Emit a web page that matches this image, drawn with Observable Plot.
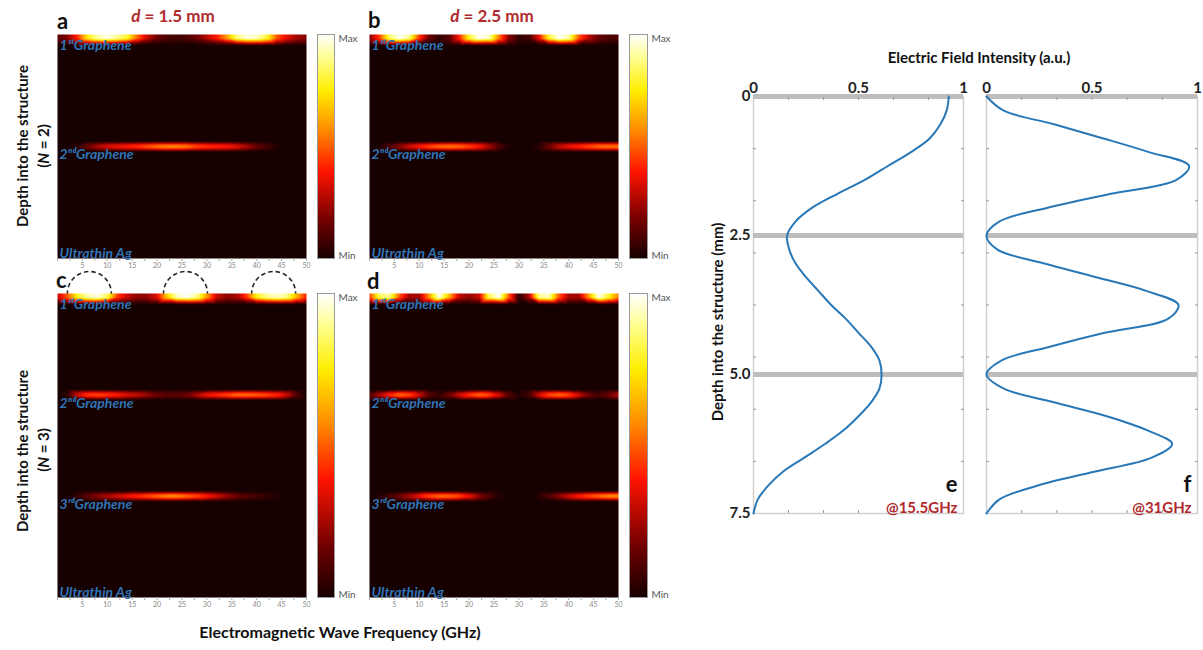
<!DOCTYPE html>
<html><head><meta charset="utf-8">
<script src="https://cdn.jsdelivr.net/npm/d3@7"></script>
<script src="https://cdn.jsdelivr.net/npm/@observablehq/plot@0.6"></script>
<style>
body{margin:0;background:#fff;}
#fig{position:relative;width:1203px;height:650px;overflow:hidden;background:#fff;}
#fig svg{overflow:visible;}
</style></head><body><div id="fig"></div>
<script>
// ---------- DATA ----------
const freqGHz = [0,2,4,6,8,10,12,14,16,18,20,22,24,26,28,30,32,34,36,38,40,42,44,46,48,50];
const freqTickMarks = [0,2.5,5,7.5,10,12.5,15,17.5,20,22.5,25,27.5,30,32.5,35,37.5,40,42.5,45,47.5,50];
const freqTickLabels = [5,10,15,20,25,30,35,40,45,50];

// normalised field intensity (Min = 0, Max = 1) along each layer, sampled at freqGHz
const panelA_layer1 = [0.12,0.2,0.42,0.75,0.92,0.98,0.9,0.8,0.52,0.3,0.16,0.1,0.08,0.1,0.16,0.28,0.4,0.6,0.88,0.97,0.95,0.82,0.5,0.35,0.25,0.2];
const panelA_layer2 = [0,0,0.05,0.15,0.25,0.32,0.35,0.38,0.42,0.47,0.52,0.55,0.55,0.52,0.45,0.42,0.4,0.38,0.33,0.25,0.15,0.08,0.03,0,0,0];
const panelB_layer1 = [0.2,0.45,0.85,1.0,0.9,0.45,0.15,0.05,0.12,0.4,0.8,1.0,0.95,0.55,0.2,0.05,0.08,0.35,0.8,1.0,0.92,0.5,0.28,0.15,0.1,0.1];
const panelB_layer2 = [0,0.02,0.1,0.2,0.3,0.38,0.45,0.5,0.52,0.5,0.45,0.38,0.25,0.1,0.02,0,0,0.03,0.15,0.28,0.35,0.4,0.45,0.5,0.52,0.52];
const panelC_layer1 = [0.3,0.5,0.78,0.92,0.98,0.85,0.45,0.3,0.22,0.22,0.35,0.7,0.95,1.0,0.9,0.6,0.3,0.22,0.25,0.45,0.78,0.9,0.95,0.9,0.65,0.4];
const panelC_layer2 = [0,0.05,0.3,0.42,0.45,0.42,0.38,0.32,0.28,0.22,0.15,0.12,0.12,0.15,0.25,0.35,0.4,0.45,0.5,0.5,0.48,0.45,0.4,0.3,0.1,0];
const panelC_layer3 = [0,0,0.05,0.12,0.2,0.25,0.3,0.35,0.4,0.45,0.5,0.55,0.55,0.5,0.45,0.38,0.3,0.22,0.15,0.1,0.08,0.05,0.02,0,0,0];
const panelD_layer1 = [0.45,0.85,0.9,0.5,0.25,0.25,0.6,1.0,0.65,0.3,0.22,0.3,0.85,1.0,0.5,0.05,0.25,0.9,0.95,0.5,0.25,0.25,0.6,1.0,0.8,0.55];
const panelD_layer2 = [0.1,0.25,0.4,0.5,0.45,0.3,0.12,0.05,0.15,0.3,0.42,0.5,0.45,0.3,0.12,0.02,0.08,0.3,0.45,0.5,0.45,0.3,0.15,0.08,0.15,0.25];
const panelD_layer3 = [0,0.02,0.08,0.15,0.25,0.35,0.45,0.5,0.5,0.45,0.35,0.2,0.1,0.03,0,0,0,0.03,0.1,0.2,0.3,0.38,0.45,0.5,0.55,0.55];

const layerNames = ["1ˢᵗGraphene","2ⁿᵈGraphene","3ʳᵈGraphene"];
const substrateName = "Ultrathin Ag";
const arcCentersGHz = [6.4, 25.7, 43.4];

// field intensity profiles (panels e, f)
const depthMM = [0,0.25,0.5,0.75,1,1.25,1.5,1.75,2,2.25,2.5,2.75,3,3.25,3.5,3.75,4,4.25,4.5,4.75,5,5.25,5.5,5.75,6,6.25,6.5,6.75,7,7.25,7.5];
const fieldE = [0.93,0.92,0.89,0.84,0.75,0.64,0.53,0.40,0.28,0.20,0.16,0.17,0.20,0.25,0.31,0.37,0.44,0.50,0.56,0.60,0.61,0.60,0.56,0.50,0.43,0.34,0.24,0.14,0.07,0.02,0.0];
const fieldF = [0.0,0.08,0.32,0.55,0.77,0.96,0.90,0.59,0.29,0.06,0.0,0.05,0.27,0.52,0.76,0.91,0.86,0.56,0.30,0.07,0.0,0.08,0.32,0.57,0.76,0.88,0.78,0.51,0.24,0.06,0.0];
const layerDepthsMM = [0, 2.5, 5.0];
const depthTickLabels = [0, 2.5, 5, 7.5];
const depthMinorTicks = [0.9375,1.875,2.8125,3.75,4.6875,5.625,6.5625];
const intensityTickLabels = [0, 0.5, 1];
const intensityMinorTicks = [1/6,2/6,3/6,4/6,5/6];

// ---------- STYLE ----------
const FONT = "Lato, 'Open Sans', 'DejaVu Sans', sans-serif";
const hotDomain = [0, 0.17, 0.39, 0.57, 0.75, 0.9, 1];
const hotRange = ["#160000", "#720000", "#ff1400", "#ff8a00", "#ffee00", "#ffff95", "#ffffff"];
const colorScale = {type: "linear", domain: hotDomain, range: hotRange, clamp: true};
const blue = "#2e74b5", darkRed = "#b02a2e";

const fig = document.getElementById("fig");
function place(node, left, top) {
  node.style.position = "absolute";
  node.style.left = left + "px";
  node.style.top = top + "px";
  fig.appendChild(node);
}

function heatmap(layers, spacing, frame, showArcs) {
  const N = layers.length, D = N * spacing;
  const mL = 4, mR = 6, mT = showArcs ? 28 : 4, mB = 18;
  const px = D / frame.h;               // mm per pixel (band thickness styling)
  const pts = [];
  layers.forEach((vals, k) => {
    const yc = k * spacing;
    freqGHz.forEach((f, i) => {
      if (k === 0) {
        pts.push({f, depth: 0, v: vals[i]});
        pts.push({f, depth: 4 * px, v: vals[i]});
        pts.push({f, depth: 11 * px, v: 0});
      } else {
        pts.push({f, depth: yc - 5.5 * px, v: 0});
        pts.push({f, depth: yc - 1.2 * px, v: vals[i]});
        pts.push({f, depth: yc + 1.2 * px, v: vals[i]});
        pts.push({f, depth: yc + 5.5 * px, v: 0});
      }
    });
  });
  freqGHz.forEach(f => pts.push({f, depth: D, v: 0}));
  const firstLabel = [{depth: 0, name: layerNames[0]}];
  const innerLabels = layers.slice(1).map((_, j) => ({depth: (j + 1) * spacing, name: layerNames[j + 1]}));
  const labelStyle = {x: () => 0, y: "depth", text: "name", dx: 2, textAnchor: "start", lineAnchor: "top",
    fill: blue, fontSize: 14, fontWeight: "bold", fontStyle: "italic"};
  const p = Plot.plot({
    width: frame.w + mL + mR, height: frame.h + mT + mB,
    marginLeft: mL, marginRight: mR, marginTop: mT, marginBottom: mB,
    style: {fontFamily: FONT, overflow: "visible", background: "transparent"},
    x: {domain: [0, 50]},
    y: {domain: [D, 0], axis: null},
    color: colorScale,
    marks: [
      showArcs ? Plot.dot(arcCentersGHz, {x: d => d, y: () => 0, r: 22, stroke: "#2a2a2a", strokeWidth: 1.6, strokeDasharray: "4.5,3", fill: "none"}) : null,
      Plot.raster(pts, {x: "f", y: "depth", fill: "v", interpolate: "barycentric", x1: 0, x2: 50, y1: 0, y2: D}),
      Plot.axisX(freqTickMarks, {tickSize: 3, tickPadding: 2, fontSize: 7, stroke: "#aaa", fill: "#888", label: null,
        tickFormat: d => freqTickLabels.includes(d) ? String(d) : ""}),
      Plot.text(firstLabel, {...labelStyle, dy: 6}),
      Plot.text(innerLabels, {...labelStyle, dy: 3}),
      Plot.text([substrateName], {...labelStyle, y: () => D, text: d => d, dy: -1, lineAnchor: "bottom"})
    ]
  });
  place(p, frame.x - mL, frame.y - mT);
}

function colorbar(frame) {
  const mR = 30;
  const p = Plot.plot({
    width: frame.w + 1 + mR, height: frame.h + 2,
    marginLeft: 1, marginRight: mR, marginTop: 1, marginBottom: 1,
    style: {fontFamily: FONT, overflow: "visible", background: "transparent"},
    x: {domain: [0, 1], axis: null}, y: {domain: [0, 1], axis: null},
    color: colorScale,
    marks: [
      Plot.raster({fill: (x, y) => y, x1: 0, x2: 1, y1: 0, y2: 1}),
      Plot.frame({stroke: "#999"}),
      Plot.text(["Max"], {x: () => 1, y: () => 1, text: d => d, dx: 4, textAnchor: "start", lineAnchor: "top", fontSize: 10, fill: "#555"}),
      Plot.text(["Min"], {x: () => 1, y: () => 0, text: d => d, dx: 4, textAnchor: "start", lineAnchor: "bottom", fontSize: 10, fill: "#555"})
    ]
  });
  place(p, frame.x - 1, frame.y - 1);
}

function profile(vals, frame, showDepth, letter, freqLabel) {
  const mL = 44, mR = 8, mT = 26, mB = 6;
  const data = depthMM.map((d, i) => ({depth: d, v: vals[i]}));
  const minor = {tickSize: -3, tickFormat: () => "", stroke: "#999", label: null};
  const p = Plot.plot({
    width: frame.w + mL + mR, height: frame.h + mT + mB,
    marginLeft: mL, marginRight: mR, marginTop: mT, marginBottom: mB,
    style: {fontFamily: FONT, fontWeight: "bold", fontSize: "15px", overflow: "visible", background: "transparent"},
    x: {domain: [0, 1]}, y: {domain: [7.5, 0]},
    marks: [
      Plot.frame({stroke: "#d0d0d0", strokeWidth: 1.5}),
      Plot.ruleY(layerDepthsMM, {stroke: "#bdbdbd", strokeWidth: 5}),
      Plot.axisX(intensityMinorTicks, {anchor: "top", ...minor}),
      Plot.axisX(intensityMinorTicks, {anchor: "bottom", ...minor}),
      Plot.axisY(depthMinorTicks, {anchor: "left", ...minor}),
      Plot.axisY(depthMinorTicks, {anchor: "right", ...minor}),
      Plot.axisX(intensityTickLabels, {anchor: "top", tickSize: 0, tickPadding: 4, fontSize: 15, fill: "#222", label: null, tickFormat: d => String(d)}),
      showDepth ? Plot.axisY(depthTickLabels, {anchor: "left", tickSize: 0, tickPadding: 3, fontSize: 15, fill: "#222", label: null,
        tickFormat: d => d === 0 ? "0" : d.toFixed(1)}) : null,
      Plot.line(data, {x: "v", y: "depth", stroke: "#2878b8", strokeWidth: 2, curve: "catmull-rom"}),
      Plot.text([letter], {frameAnchor: "bottom-right", text: d => d, dx: -6, dy: -22, textAnchor: "end", lineAnchor: "bottom", fontSize: 22, fill: "#111"}),
      Plot.text([freqLabel], {frameAnchor: "bottom-right", text: d => d, dx: -6, dy: -1, textAnchor: "end", lineAnchor: "bottom", fontSize: 15, fill: darkRed})
    ]
  });
  place(p, frame.x - mL, frame.y - mT);
}

// ---------- PANELS ----------
heatmap([panelA_layer1, panelA_layer2], 1.5, {x: 57, y: 34, w: 249, h: 224}, false);
heatmap([panelB_layer1, panelB_layer2], 2.5, {x: 369, y: 34, w: 249, h: 224}, false);
heatmap([panelC_layer1, panelC_layer2, panelC_layer3], 1.5, {x: 57, y: 293, w: 249, h: 304}, true);
heatmap([panelD_layer1, panelD_layer2, panelD_layer3], 2.5, {x: 369, y: 293, w: 249, h: 304}, false);
colorbar({x: 317, y: 34, w: 17, h: 224});
colorbar({x: 629, y: 34, w: 18, h: 224});
colorbar({x: 317, y: 293, w: 17, h: 304});
colorbar({x: 629, y: 293, w: 18, h: 304});
profile(fieldE, {x: 753, y: 96, w: 210, h: 417}, true, "e", "@15.5GHz");
profile(fieldF, {x: 986, y: 96, w: 211, h: 417}, false, "f", "@31GHz");

// ---------- TEXT OVERLAY ----------
const svg = d3.select(fig).append("svg")
  .attr("width", 1203).attr("height", 650)
  .style("position", "absolute").style("left", "0px").style("top", "0px")
  .style("pointer-events", "none")
  .attr("font-family", FONT).attr("font-weight", "bold");

function txt(x, y, parts, {size = 14, fill = "#111", anchor = "start", rotate = false} = {}) {
  const t = svg.append("text").attr("font-size", size).attr("fill", fill).attr("text-anchor", anchor);
  if (rotate) t.attr("transform", `translate(${x},${y}) rotate(-90)`);
  else t.attr("x", x).attr("y", y);
  parts.forEach(p => {
    const s = t.append("tspan").text(typeof p === "string" ? p : p.t);
    if (typeof p !== "string" && p.italic) s.attr("font-style", "italic");
  });
}
txt(57, 29, ["a"], {size: 22});
txt(368, 28, ["b"], {size: 22});
txt(56, 288, ["c"], {size: 22});
txt(367, 289, ["d"], {size: 22});
txt(173, 22, [{t: "d", italic: true}, " = 1.5 mm"], {size: 17, fill: darkRed, anchor: "middle"});
txt(492, 22, [{t: "d", italic: true}, " = 2.5 mm"], {size: 17, fill: darkRed, anchor: "middle"});
txt(28, 146, ["Depth into the structure"], {size: 15, anchor: "middle", rotate: true});
txt(49, 146, ["(", {t: "N", italic: true}, " = 2)"], {size: 15, anchor: "middle", rotate: true});
txt(28, 451, ["Depth into the structure"], {size: 15, anchor: "middle", rotate: true});
txt(49, 450, ["(", {t: "N", italic: true}, " = 3)"], {size: 15, anchor: "middle", rotate: true});
txt(340, 638, ["Electromagnetic Wave Frequency (GHz)"], {size: 16, anchor: "middle"});
txt(979, 63, ["Electric Field Intensity (a.u.)"], {size: 15, anchor: "middle"});
txt(723, 322, ["Depth into the structure (mm)"], {size: 15, anchor: "middle", rotate: true});
</script>
</body></html>
